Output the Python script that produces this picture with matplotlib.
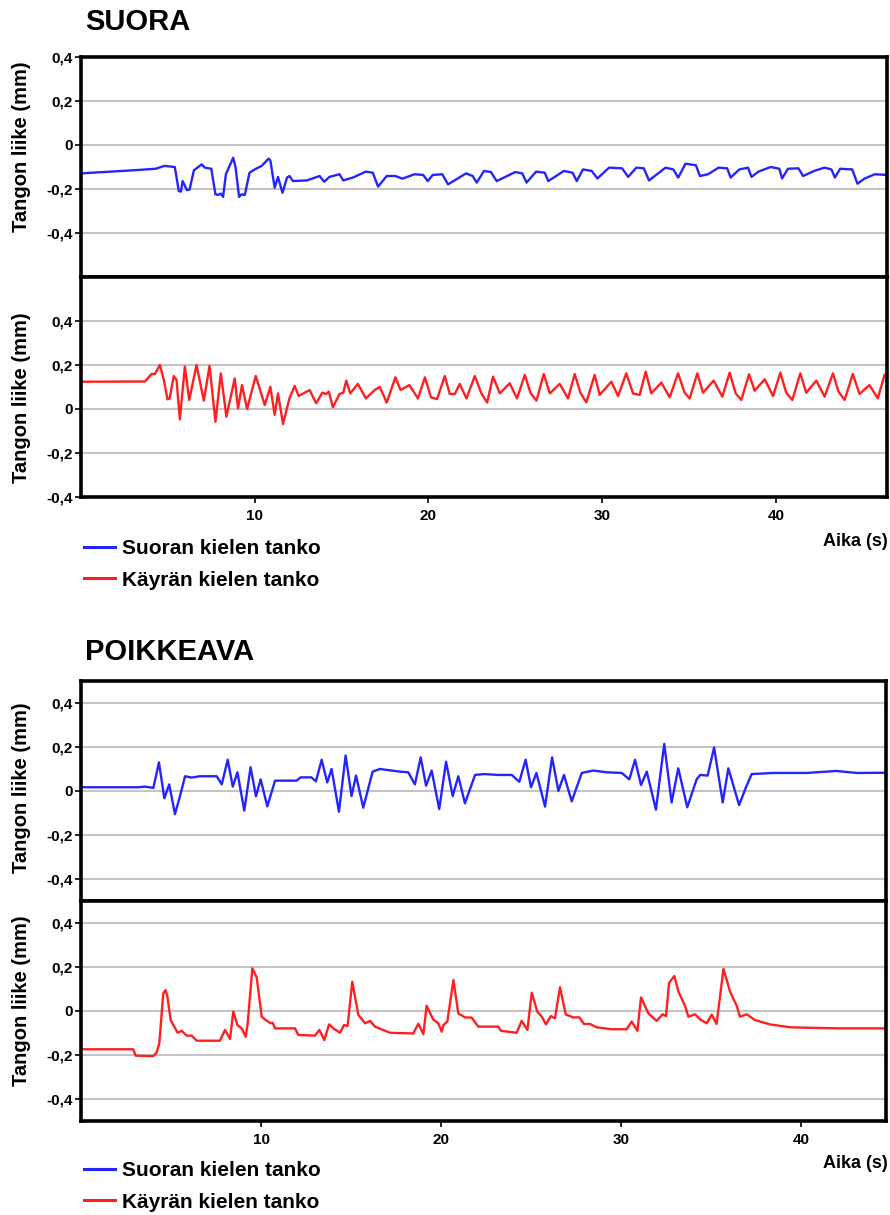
import matplotlib
matplotlib.use("Agg")
import matplotlib.pyplot as plt
from matplotlib.lines import Line2D

plt.rcParams['font.family'] = ['Liberation Sans', 'DejaVu Sans']
plt.rcParams['font.weight'] = 'bold'

# --- SUORA: straight-string rod (blue) and curved-string rod (red) ---
suora_blue_t = [0, 3.0, 4.3, 4.8, 5.4, 5.63, 5.75, 5.85, 6.1, 6.25,
                6.5, 6.95, 7.13, 7.5, 7.74, 7.9, 8.05, 8.18, 8.34, 8.76,
                8.9, 9.1, 9.25, 9.43, 9.7, 10.0, 10.4, 10.8, 10.9, 11.15,
                11.34, 11.6, 11.86, 12.0, 12.2, 13.0, 13.74, 14.0, 14.3, 14.88,
                15.1, 15.65, 16.4, 16.8, 17.1, 17.6, 18.1, 18.5, 19.2, 19.7,
                19.96, 20.25, 20.8, 21.13, 22.17, 22.55, 22.78, 23.2, 23.6, 23.93,
                25.0, 25.4, 25.65, 26.2, 26.7, 26.9, 27.8, 28.3, 28.54, 28.9,
                29.4, 29.73, 30.4, 31.15, 31.5, 31.97, 32.4, 32.7, 33.65, 34.1,
                34.38, 34.8, 35.4, 35.63, 36.1, 36.7, 37.2, 37.4, 37.9, 38.4,
                38.6, 39.0, 39.7, 40.2, 40.36, 40.7, 41.3, 41.57, 42.2, 42.8,
                43.2, 43.4, 43.7, 44.4, 44.7, 45.1, 45.7, 46.4]
suora_blue = [-0.129, -0.115, -0.108, -0.095, -0.100, -0.209, -0.212, -0.164, -0.205, -0.202,
              -0.115, -0.088, -0.103, -0.108, -0.224, -0.227, -0.221, -0.236, -0.133, -0.058,
              -0.103, -0.236, -0.224, -0.227, -0.126, -0.111, -0.095, -0.062, -0.070, -0.194,
              -0.145, -0.217, -0.148, -0.141, -0.164, -0.161, -0.141, -0.167, -0.145, -0.133,
              -0.161, -0.148, -0.121, -0.126, -0.189, -0.141, -0.141, -0.153, -0.133, -0.136,
              -0.164, -0.136, -0.133, -0.179, -0.129, -0.141, -0.171, -0.118, -0.123, -0.164,
              -0.123, -0.129, -0.171, -0.121, -0.126, -0.164, -0.118, -0.126, -0.164, -0.111,
              -0.118, -0.152, -0.103, -0.106, -0.145, -0.103, -0.106, -0.161, -0.103, -0.111,
              -0.148, -0.085, -0.092, -0.141, -0.133, -0.103, -0.106, -0.148, -0.111, -0.103,
              -0.145, -0.121, -0.100, -0.108, -0.152, -0.108, -0.106, -0.141, -0.118, -0.103,
              -0.111, -0.148, -0.108, -0.111, -0.176, -0.153, -0.133, -0.136]

suora_red_t = [0, 3.68, 4.06, 4.25, 4.54, 4.77, 4.98, 5.1, 5.34, 5.5,
               5.69, 5.98, 6.23, 6.65, 7.07, 7.4, 7.74, 8.05, 8.37, 8.85,
               9.04, 9.27, 9.56, 10.06, 10.58, 10.9, 11.15, 11.34, 11.63, 12.0,
               12.3, 12.53, 13.16, 13.54, 13.89, 14.1, 14.27, 14.5, 14.88, 15.1,
               15.27, 15.5, 15.94, 16.4, 16.9, 17.2, 17.6, 18.1, 18.4, 18.9,
               19.4, 19.8, 20.15, 20.5, 20.94, 21.23, 21.52, 21.8, 22.19, 22.67,
               23.05, 23.38, 23.72, 24.11, 24.68, 25.1, 25.55, 25.87, 26.22, 26.64,
               26.99, 27.56, 28.04, 28.42, 28.75, 29.09, 29.57, 29.86, 30.53, 30.92,
               31.39, 31.78, 32.16, 32.51, 32.83, 33.41, 33.89, 34.37, 34.75, 35.04,
               35.48, 35.81, 36.42, 36.92, 37.34, 37.69, 38.01, 38.46, 38.78, 39.36,
               39.84, 40.26, 40.6, 40.95, 41.41, 41.75, 42.33, 42.81, 43.29, 43.61,
               43.96, 44.43, 44.82, 45.39, 45.87, 46.26]
suora_red = [0.124, 0.125, 0.159, 0.159, 0.200, 0.132, 0.044, 0.048, 0.150, 0.132,
             -0.047, 0.193, 0.041, 0.200, 0.038, 0.196, -0.058, 0.162, -0.035, 0.139,
             0.003, 0.109, 0.000, 0.150, 0.018, 0.101, -0.027, 0.071, -0.068, 0.048,
             0.105, 0.059, 0.086, 0.026, 0.074, 0.068, 0.079, 0.008, 0.068, 0.074,
             0.129, 0.071, 0.114, 0.048, 0.086, 0.101, 0.029, 0.144, 0.086, 0.109,
             0.048, 0.144, 0.053, 0.045, 0.150, 0.068, 0.068, 0.114, 0.048, 0.150,
             0.071, 0.029, 0.147, 0.071, 0.117, 0.048, 0.155, 0.074, 0.038, 0.159,
             0.071, 0.114, 0.048, 0.159, 0.074, 0.030, 0.155, 0.064, 0.124, 0.059,
             0.162, 0.071, 0.064, 0.170, 0.071, 0.120, 0.053, 0.162, 0.074, 0.048,
             0.162, 0.074, 0.129, 0.056, 0.165, 0.071, 0.041, 0.158, 0.083, 0.135,
             0.059, 0.165, 0.074, 0.041, 0.162, 0.074, 0.129, 0.056, 0.162, 0.079,
             0.041, 0.159, 0.068, 0.109, 0.048, 0.155]

# --- POIKKEAVA ---
poik_blue_t = [0, 3.18, 3.55, 4.02, 4.33, 4.63, 4.9, 5.22, 5.5, 5.78,
               6.15, 6.6, 7.54, 7.82, 8.15, 8.43, 8.69, 9.07, 9.42, 9.72,
               9.98, 10.35, 10.78, 11.98, 12.2, 12.8, 13.05, 13.37, 13.68, 13.92,
               14.33, 14.7, 15.03, 15.28, 15.68, 16.2, 16.6, 17.72, 18.18, 18.55,
               18.87, 19.17, 19.48, 19.9, 20.28, 20.65, 20.96, 21.33, 21.89, 22.4,
               23.18, 23.93, 24.35, 24.7, 25.0, 25.3, 25.78, 26.17, 26.52, 26.83,
               27.26, 27.82, 28.46, 29.2, 30.04, 30.46, 30.78, 31.11, 31.43, 31.94,
               32.4, 32.81, 33.18, 33.68, 34.2, 34.4, 34.81, 35.17, 35.65, 35.96,
               36.56, 36.94, 37.26, 38.46, 40.3, 41.97, 43.1, 44.72]
poik_blue = [0.017, 0.017, 0.020, 0.014, 0.130, -0.033, 0.030, -0.105, -0.023, 0.067,
             0.061, 0.067, 0.067, 0.030, 0.142, 0.020, 0.085, -0.089, 0.108, -0.024,
             0.053, -0.070, 0.047, 0.047, 0.062, 0.062, 0.044, 0.142, 0.039, 0.100,
             -0.094, 0.161, -0.023, 0.070, -0.076, 0.088, 0.100, 0.088, 0.085, 0.030,
             0.153, 0.024, 0.093, -0.082, 0.133, -0.023, 0.067, -0.056, 0.073, 0.077,
             0.073, 0.073, 0.042, 0.142, 0.017, 0.082, -0.071, 0.153, 0.000, 0.073,
             -0.047, 0.082, 0.093, 0.085, 0.082, 0.053, 0.142, 0.027, 0.088, -0.085,
             0.214, -0.052, 0.103, -0.074, 0.053, 0.073, 0.070, 0.198, -0.052, 0.103,
             -0.064, 0.017, 0.077, 0.082, 0.082, 0.091, 0.082, 0.083]

poik_red_t = [0, 2.9, 3.04, 4.02, 4.2, 4.35, 4.57, 4.7, 4.8, 4.98,
              5.37, 5.59, 5.87, 6.15, 6.43, 7.72, 8.0, 8.28, 8.46, 8.69,
              8.93, 9.15, 9.26, 9.52, 9.76, 10.04, 10.31, 10.54, 10.65, 10.78,
              11.89, 12.07, 13.0, 13.24, 13.52, 13.78, 14.02, 14.39, 14.61, 14.81,
              15.07, 15.41, 15.78, 16.06, 16.33, 17.17, 18.46, 18.74, 19.02, 19.2,
              19.57, 19.85, 20.04, 20.13, 20.35, 20.69, 20.96, 21.33, 21.7, 22.07,
              23.18, 23.33, 24.2, 24.48, 24.8, 25.04, 25.35, 25.6, 25.83, 26.1,
              26.33, 26.61, 26.93, 27.35, 27.69, 27.94, 28.28, 28.65, 29.48, 30.31,
              30.59, 30.91, 31.11, 31.52, 31.98, 32.31, 32.5, 32.67, 32.96, 33.19,
              33.56, 33.74, 34.11, 34.39, 34.76, 35.04, 35.31, 35.69, 36.06, 36.43,
              36.61, 36.98, 37.44, 38.28, 39.39, 40.31, 42.17, 44.72]
poik_red = [-0.174, -0.174, -0.203, -0.205, -0.189, -0.147, 0.080, 0.095, 0.065, -0.041,
            -0.099, -0.090, -0.112, -0.112, -0.135, -0.135, -0.086, -0.127, -0.003, -0.064,
            -0.079, -0.117, -0.056, 0.194, 0.153, -0.026, -0.044, -0.056, -0.053, -0.079,
            -0.079, -0.109, -0.112, -0.086, -0.132, -0.061, -0.079, -0.099, -0.064, -0.068,
            0.133, -0.018, -0.056, -0.045, -0.071, -0.099, -0.102, -0.058, -0.105, 0.024,
            -0.039, -0.056, -0.094, -0.064, -0.048, 0.141, -0.011, -0.029, -0.030, -0.071,
            -0.071, -0.090, -0.099, -0.045, -0.086, 0.083, -0.003, -0.026, -0.061, -0.023,
            -0.033, 0.108, -0.016, -0.029, -0.029, -0.059, -0.059, -0.074, -0.083, -0.083,
            -0.048, -0.090, 0.062, -0.011, -0.045, -0.015, -0.023, 0.128, 0.159, 0.088,
            0.023, -0.026, -0.015, -0.038, -0.056, -0.016, -0.059, 0.191, 0.088, 0.023,
            -0.026, -0.015, -0.041, -0.061, -0.074, -0.076, -0.079, -0.079]

y_ticks = [0.4, 0.2, 0.0, -0.2, -0.4]
y_tick_labels = ['0,4', '0,2', '0', '-0,2', '-0,4']
x_ticks = [10, 20, 30, 40]
legend_labels = ['Suoran kielen tanko', 'Käyrän kielen tanko']

W, H = 890, 1215
BLUE = '#2424ff'
RED = '#ff1f1f'


def px_rect(left, top, right, bottom):
    return [left / W, 1 - bottom / H, (right - left) / W, (bottom - top) / H]


def fy(y):
    return 1 - y / H


def panel(fig, rect, t, v, color, ylim, xmax, show_x):
    ax = fig.add_axes(rect)
    ax.plot(t, v, color=color, lw=1.7, solid_joinstyle='round')
    ax.set_xlim(0, xmax)
    ax.set_ylim(*ylim)
    ax.set_yticks(y_ticks, y_tick_labels)
    if show_x:
        ax.set_xticks(x_ticks)
    else:
        ax.set_xticks([])
    ax.grid(axis='y', color='#c4c4c4', lw=1.5)
    ax.set_axisbelow(True)
    for s in ax.spines.values():
        s.set_linewidth(2.6)
    ax.tick_params(axis='y', length=4, width=1.2, pad=2, labelsize=11)
    ax.tick_params(axis='x', length=4, width=1.2, pad=5, labelsize=11)
    return ax


def group(fig, title, title_y, top, right, xmax, blue_t, blue, red_t, red, ylims, label_ys, aika_y, legend_y):
    mid = top + 220
    bottom = mid + 220
    fig.text(85 / W, fy(title_y), title, fontsize=21, fontweight='bold', va='center', ha='left')
    panel(fig, px_rect(81, top, right, mid), blue_t, blue, BLUE, ylims[0], xmax, False)
    panel(fig, px_rect(81, mid, right, bottom), red_t, red, RED, ylims[1], xmax, True)
    for ly in label_ys:
        fig.text(22 / W, fy(ly), 'Tangon liike (mm)', rotation=90, fontsize=14.5,
                 fontweight='bold', ha='center', va='center')
    fig.text(888 / W, fy(aika_y), 'Aika (s)', fontsize=13, fontweight='bold', ha='right', va='center')
    handles = [Line2D([], [], color=BLUE, lw=2.2), Line2D([], [], color=RED, lw=2.2)]
    fig.legend(handles, legend_labels, loc='center left', bbox_to_anchor=(84 / W, fy(legend_y)),
               frameon=False, fontsize=15, handlelength=1.5, handletextpad=0.3,
               labelspacing=0.6, borderpad=0, borderaxespad=0)


fig = plt.figure(figsize=(W / 100, H / 100), dpi=100)

group(fig, 'SUORA', 22, 57, 887, 46.4, suora_blue_t, suora_blue, suora_red_t, suora_red,
      [(-0.6, 0.4), (-0.4, 0.6)], [147, 398], 541, 564.5)
group(fig, 'POIKKEAVA', 652, 681, 886, 44.72, poik_blue_t, poik_blue, poik_red_t, poik_red,
      [(-0.5, 0.5), (-0.5, 0.5)], [788, 1001], 1163, 1186.5)

fig.savefig('out.png', dpi=100)
